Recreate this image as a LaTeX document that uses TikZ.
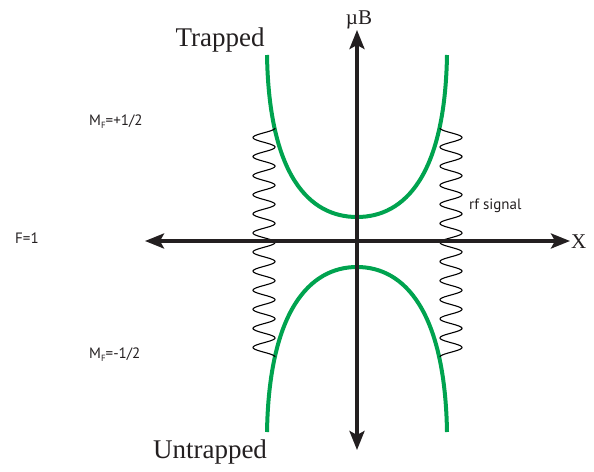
\documentclass[tikz,border=0pt]{standalone}
\usepackage{fontspec}
\setmainfont{Liberation Serif}
\newfontfamily\lblfont{PT Sans}
\usetikzlibrary{arrows.meta}
\definecolor{curvegreen}{RGB}{0,163,79}
\definecolor{axisblack}{RGB}{35,31,32}
\newcommand{\mysub}[1]{\raisebox{-3pt}{\fontsize{9}{10}\selectfont #1}}
\begin{document}
\begin{tikzpicture}[x=1pt,y=-1pt,
  axis/.style={line width=3.5pt, color=axisblack, {Stealth[length=19pt,width=15pt,inset=4pt]}-{Stealth[length=19pt,width=15pt,inset=4pt]}},
  level/.style={line width=4pt, color=curvegreen},
  wave/.style={line width=1.1pt, black},
  serif/.style={font=\fontsize{27}{30}\selectfont, inner sep=0pt, text=axisblack},
  axlbl/.style={font=\fontsize{21}{24}\selectfont, inner sep=0pt, text=axisblack},
  small/.style={font=\lblfont\fontsize{15}{17}\selectfont, inner sep=0pt, text=axisblack}]
\useasboundingbox (0,0) rectangle (594,471);
% axes
\coordinate (xl) at (145,241);
\coordinate (xr) at (570,241);
\coordinate (yt) at (357,30);
\coordinate (yb) at (357,450);
% green levels
\draw[level] (267,55) .. controls (269,175) and (309,217) .. (357,217)
  .. controls (405,217) and (445,175) .. (447,55);
\draw[level] (267,432) .. controls (269,312) and (309,267) .. (357,267)
  .. controls (405,267) and (445,312) .. (447,432);
% rf waves
\draw[wave] plot[domain=0:229, samples=400, smooth] ({264+11*cos(18.865*\x)}, {128+\x});
\draw[wave] plot[domain=0:229, samples=400, smooth] ({451-11*cos(18.865*\x)}, {128+\x});
\draw[axis] (xl) -- (xr);
\draw[axis] (yb) -- (yt);
% labels
\node[serif, anchor=base] (trapped) at (220,46) {Trapped};
\node[serif, anchor=base] (untrapped) at (210,458) {Untrapped};
\node[axlbl, anchor=base] (muB) at (359,24) {µB};
\node[axlbl, anchor=base west] (X) at (571,248) {X};
\node[small, anchor=base west] (mfp) at (89,125) {M\mysub{F}=+1/2};
\node[small, anchor=base west] (mfm) at (89,358) {M\mysub{F}=-1/2};
\node[small, anchor=base west] (f1) at (15,243) {F=1};
\node[small, anchor=base west] (rf) at (469,209) {rf signal};
\end{tikzpicture}
\end{document}
